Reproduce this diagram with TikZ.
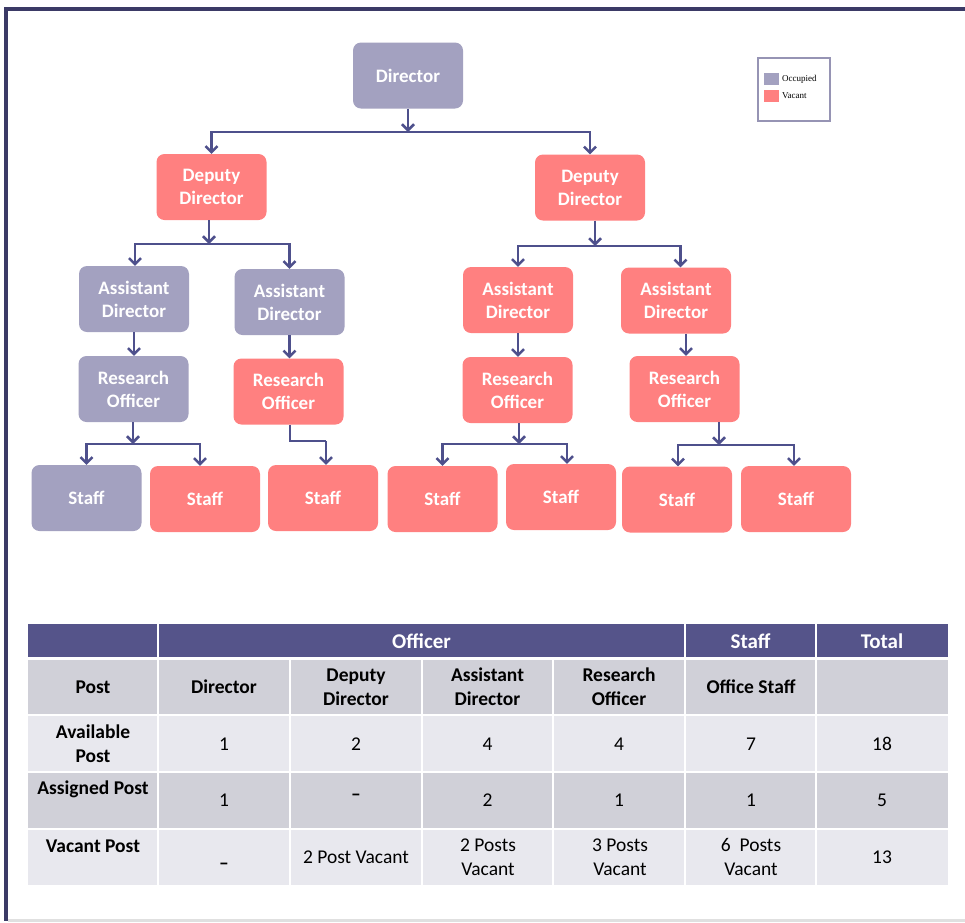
\documentclass[tikz,border=0pt]{standalone}
\usepackage{fontspec}
\setmainfont{Carlito}
\newfontfamily\legfont{Liberation Serif}
\usetikzlibrary{arrows.meta}
\definecolor{occ}{RGB}{163,161,192}
\definecolor{vac}{RGB}{255,128,128}
\definecolor{conncol}{RGB}{78,80,140}
\definecolor{framecol}{RGB}{59,58,102}
\definecolor{headcol}{RGB}{85,84,138}
\definecolor{rowdark}{RGB}{208,208,216}
\definecolor{rowlight}{RGB}{232,232,238}
\definecolor{legborder}{RGB}{150,148,180}
\tikzset{
  box/.style={rectangle, rounded corners=8pt, minimum width=110pt, minimum height=66pt,
    text=white, font=\fontsize{19}{23}\selectfont\bfseries, align=center, inner sep=0pt},
  occbox/.style={box, fill=occ},
  vacbox/.style={box, fill=vac},
  arr/.style={draw=conncol, line width=2.5pt, -{Straight Barb[length=6pt,width=12pt]}},
  ln/.style={draw=conncol, line width=2.5pt},
  hdr/.style={text=white, font=\fontsize{21}{25}\selectfont\bfseries, inner sep=0pt},
  tb/.style={text=black, font=\fontsize{19.5}{24}\selectfont\bfseries, align=center, inner sep=0pt},
  tn/.style={text=black, font=\fontsize{19.5}{24}\selectfont, align=center, inner sep=0pt},
  cellsep/.style={draw=white, line width=1.5pt},
  legtext/.style={anchor=west, inner sep=0pt, font=\legfont\fontsize{9}{10}\selectfont},
}
\begin{document}
\begin{tikzpicture}[x=1pt,y=-1pt]
\useasboundingbox (0,0) rectangle (965,922);
\fill[white] (0,0) rectangle (965,922);
% frame
\fill[framecol] (4,7) rectangle (965,11);
\fill[framecol] (4,7) rectangle (8,921);
\fill[black!12] (8,919) rectangle (965,922);

% legend
\node[draw=legborder, line width=1.5pt, minimum width=72pt, minimum height=63pt, inner sep=0pt] (leg) at (794,89.5) {};
\fill[occ] (764,73) rectangle (779,85);
\fill[vac] (764,90) rectangle (779,102);
\node[legtext] (lo) at (782,79) {Occupied};
\node[legtext] (lv) at (782,96) {Vacant};

% chart nodes
\node[occbox] (dir) at (408,75.5) {Director};
\node[vacbox] (depL) at (211.5,187) {Deputy\\Director};
\node[vacbox] (depR) at (590,187.5) {Deputy\\Director};
\node[occbox] (adL1) at (134,299) {Assistant\\Director};
\node[occbox] (adL2) at (289.5,302) {Assistant\\Director};
\node[vacbox] (adR1) at (518,300) {Assistant\\Director};
\node[vacbox] (adR2) at (676,300.5) {Assistant\\Director};
\node[occbox] (roL1) at (133.5,389) {Research\\Officer};
\node[vacbox] (roL2) at (288.5,391.5) {Research\\Officer};
\node[vacbox] (roR1) at (517.5,390) {Research\\Officer};
\node[vacbox] (roR2) at (684.5,389) {Research\\Officer};
\node[occbox] (s1) at (86.5,498) {Staff};
\node[vacbox] (s2) at (205,499) {Staff};
\node[vacbox] (s3) at (323,498) {Staff};
\node[vacbox] (s4) at (442.5,499) {Staff};
\node[vacbox] (s5) at (561,497) {Staff};
\node[vacbox] (s6) at (677,499.5) {Staff};
\node[vacbox] (s7) at (796,499) {Staff};

% connectors
\coordinate (b1) at (408,132);
\draw[arr] (dir.south) -- (b1);
\draw[arr] (b1) -| (depL.north);
\draw[arr] (b1) -| (depR.north);

\coordinate (b2) at (209,244);
\draw[arr] (depL.south -| b2) -- (b2);
\draw[arr] (b2) -| ([xshift=1pt]adL1.north);
\draw[arr] (b2) -| (adL2.north);

\coordinate (b3) at (595,246);
\draw[arr] (depR.south -| b3) -- (b3);
\draw[arr] (b3) -| (adR1.north);
\draw[arr] (b3) -| ([xshift=4.5pt]adR2.north);

\draw[arr] (adL1.south) -- (roL1.north -| adL1.south);
\draw[arr] (adL2.south) -- (roL2.north -| adL2.south);
\draw[arr] (adR1.south) -- (roR1.north -| adR1.south);
\draw[arr] ([xshift=10pt]adR2.south) -- ([xshift=1.5pt]roR2.north);

\coordinate (b4) at (133,444);
\draw[arr] (roL1.south -| b4) -- (b4);
\draw[arr] (b4) -| (s1.north);
\draw[arr] (b4) -| ([xshift=-5pt]s2.north);

\coordinate (b5) at (290,441);
\coordinate (b5r) at (326,441);
\draw[ln] ([xshift=1.5pt]roL2.south) -- (b5) -- (b5r);
\draw[arr] (b5r) -- (s3.north -| b5r);

\coordinate (b6) at (519,444);
\draw[arr] (roR1.south -| b6) -- (b6);
\draw[arr] (b6) -| (s4.north);
\draw[arr] (b6) -| ([xshift=6pt]s5.north);

\coordinate (b7) at (719,445);
\draw[arr] (roR2.south -| b7) -- (b7);
\draw[arr] (b7) -| ([xshift=1pt]s6.north);
\draw[arr] (b7) -| ([xshift=-2pt]s7.north);

% table backgrounds
\fill[headcol] (28,624) rectangle (948,657);
\fill[rowdark] (28,660) rectangle (948,715);
\fill[rowlight] (28,715) rectangle (948,772);
\fill[rowdark] (28,772) rectangle (948,829);
\fill[rowlight] (28,829) rectangle (948,885);
% separators
\draw[cellsep] (158,624) -- (158,885);
\draw[cellsep] (685,624) -- (685,885);
\draw[cellsep] (816,624) -- (816,885);
\draw[cellsep] (290,660) -- (290,885);
\draw[cellsep] (422,660) -- (422,885);
\draw[cellsep] (553,660) -- (553,885);
\draw[cellsep] (28,715) -- (948,715);
\draw[cellsep] (28,772) -- (948,772);
\draw[cellsep] (28,829) -- (948,829);

% header
\node[hdr] (hOff) at (421.5,641) {Officer};
\node[hdr] (hStaff) at (750.5,641) {Staff};
\node[hdr] (hTot) at (882,641) {Total};

% row 1
\node[tb] (r1a) at (93,687) {Post};
\node[tb] (r1b) at (224,687) {Director};
\node[tb] (r1c) at (356,687) {Deputy\\Director};
\node[tb] (r1d) at (487.5,687) {Assistant\\Director};
\node[tb] (r1e) at (619,687) {Research\\Officer};
\node[tb] (r1f) at (751,687) {Office Staff};

% row 2
\node[tb] (r2a) at (93,744) {Available\\Post};
\node[tn] (r2b) at (224,744) {1};
\node[tn] (r2c) at (356,744) {2};
\node[tn] (r2d) at (487.5,744) {4};
\node[tn] (r2e) at (619,744) {4};
\node[tn] (r2f) at (751,744) {7};
\node[tn] (r2g) at (882,744) {18};

% row 3
\node[tb] (r3a) at (93,789) {Assigned Post};
\node[tn] (r3b) at (224,800) {1};
\node[tn, font=\fontsize{19.5}{24}\selectfont\bfseries] (r3c) at (356,797) {\textendash};
\node[tn] (r3d) at (487.5,800) {2};
\node[tn] (r3e) at (619,800) {1};
\node[tn] (r3f) at (751,800) {1};
\node[tn] (r3g) at (882,800) {5};

% row 4
\node[tb] (r4a) at (93,846) {Vacant Post};
\node[tn, font=\fontsize{19.5}{24}\selectfont\bfseries] (r4b) at (224,866) {\textendash};
\node[tn] (r4c) at (356,857) {2 Post Vacant};
\node[tn] (r4d) at (488,857) {2 Posts\\Vacant};
\node[tn] (r4e) at (620,857) {3 Posts\\Vacant};
\node[tn] (r4f) at (751,857) {6\ \ Posts\\Vacant};
\node[tn] (r4g) at (882,857) {13};
\end{tikzpicture}
\end{document}
